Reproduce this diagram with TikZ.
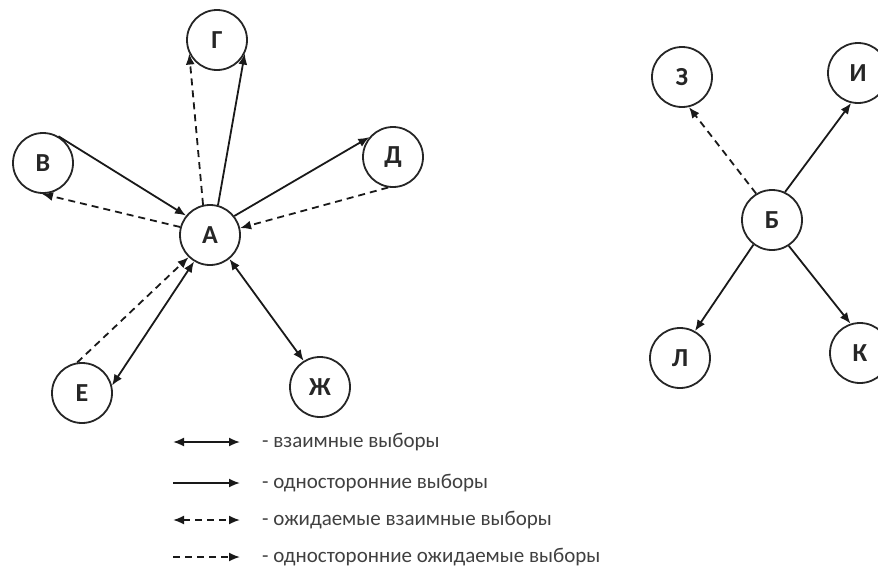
\documentclass[tikz,border=0pt]{standalone}
\usepackage{fontspec}
\setmainfont{Carlito}
\usetikzlibrary{arrows.meta}
\begin{document}
\begin{tikzpicture}[x=1pt,y=-1pt,
  person/.style={circle,draw=black!85,line width=1.8pt,minimum size=60pt,inner sep=0pt,
    font=\fontsize{26}{26}\selectfont\bfseries,text=black!85},
  link/.style={line width=1.8pt,draw=black!90},
  tip/.style={-{Latex[length=11pt,width=9pt]}},
  both/.style={{Latex[length=11pt,width=9pt]}-{Latex[length=11pt,width=9pt]}},
  expect/.style={dash pattern=on 7pt off 5pt},
  legendtext/.style={anchor=west,font=\fontsize{21}{21}\selectfont,text=black!75,inner sep=0pt}]
\useasboundingbox (0,0) rectangle (878,573);

% left group
\node[person] (A) at (210,235) {А};
\node[person] (G) at (217,40) {Г};
\node[person] (V) at (43,163) {В};
\node[person] (D) at (393,157) {Д};
\node[person] (E) at (82,393) {Е};
\node[person] (Zh) at (320,387) {Ж};

% right group
\node[person] (B) at (772,220) {Б};
\node[person] (Z) at (682,77) {З};
\node[person] (I) at (858,73) {И};
\node[person] (L) at (680,358) {Л};
\node[person] (K) at (860,353) {К};

% choices of the left group
\draw[link,tip,expect] (A.103) -- (G.206);
\draw[link,tip] (A.75) -- (G.334);
\draw[link,tip] (V.60) -- (A.141);
\draw[link,tip,expect] (A.165) -- (V.268);
\draw[link,tip] (A.38) -- (D.140);
\draw[link,tip,expect] (D.261) -- (A.13);
\draw[link,both] (A.239) -- (E.14);
\draw[link,tip,expect] (E.99) -- (A.226);
\draw[link,both] (A.309) -- (Zh.122);

% choices of the right group
\draw[link,tip] (B.65) -- (I.257);
\draw[link,tip,expect] (B.121) -- (Z.283);
\draw[link,tip] (B.233) -- (L.61);
\draw[link,tip] (B.303) -- (K.108);

% legend
\coordinate (l1a) at (173,442); \coordinate (l1b) at (240,442);
\coordinate (l2a) at (173,483); \coordinate (l2b) at (240,483);
\coordinate (l3a) at (173,520); \coordinate (l3b) at (240,520);
\coordinate (l4a) at (173,557); \coordinate (l4b) at (240,557);
\draw[link,both] (l1a) -- (l1b);
\draw[link,tip] (l2a) -- (l2b);
\draw[link,both,expect] (l3a) -- (l3b);
\draw[link,tip,expect] (l4a) -- (l4b);
\node[legendtext] (t1) at (262,442) {- взаимные выборы};
\node[legendtext] (t2) at (262,483) {- односторонние выборы};
\node[legendtext] (t3) at (262,520) {- ожидаемые взаимные выборы};
\node[legendtext] (t4) at (262,557) {- односторонние ожидаемые выборы};
\end{tikzpicture}
\end{document}
